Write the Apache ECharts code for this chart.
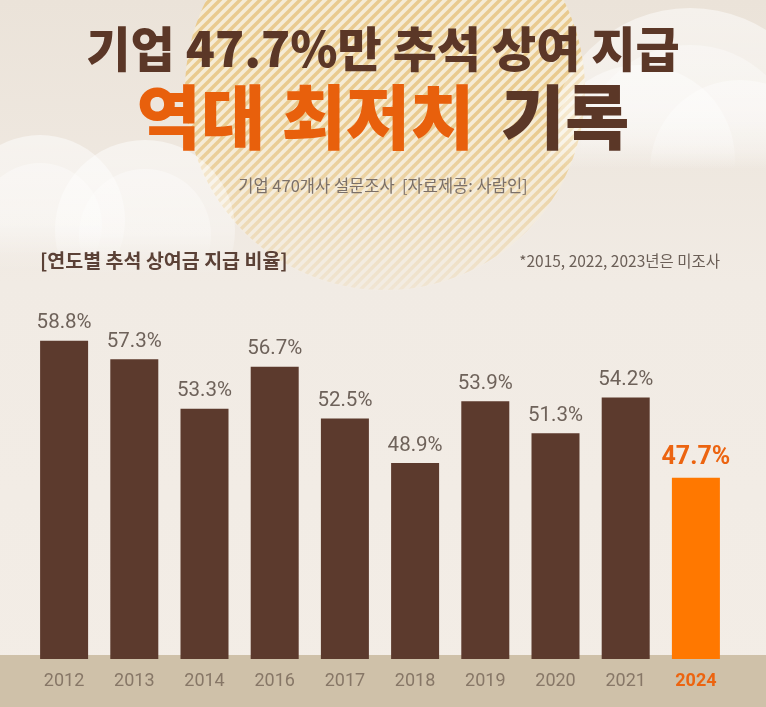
<!DOCTYPE html>
<html>
<head>
<meta charset="utf-8">
<script src="https://cdn.jsdelivr.net/npm/echarts@6/dist/echarts.min.js"></script>
<style>
html,body{margin:0;padding:0;background:#f2ece5;}
#chart{width:766px;height:707px;}
</style>
</head>
<body>
<div id="chart"></div>
<script>
// ---- data ----
const categories = ['2012','2013','2014','2016','2017','2018','2019','2020','2021','2024'];
const rates = [58.8, 57.3, 53.3, 56.7, 52.5, 48.9, 53.9, 51.3, 54.2, 47.7];
const highlightYear = '2024';
const titleLine1 = '기업 47.7%만 추석 상여 지급';
const titleLine2a = '역대 최저치';
const titleLine2b = '기록';
const subtitleText = '기업 470개사 설문조사  [자료제공: 사람인]';
const sectionLabel = '[연도별 추석 상여금 지급 비율]';
const noteText = '*2015, 2022, 2023년은 미조사';

const BROWN = '#5c3a2d';
const ORANGE = '#ff7800';
const ORANGE_TEXT = '#ec6410';
const NUM = "Roboto, 'Noto Sans', sans-serif";
const KR = "'Noto Sans CJK KR', sans-serif";

function stripePattern() {
  const s = 10;
  const c = document.createElement('canvas');
  c.width = s; c.height = s;
  const g = c.getContext('2d');
  g.fillStyle = '#f6ecd6';
  g.fillRect(0, 0, s, s);
  g.strokeStyle = '#e9c98b';
  g.lineWidth = 3.4;
  g.beginPath();
  g.moveTo(0, s); g.lineTo(s, 0);
  g.moveTo(-s / 2, s / 2); g.lineTo(s / 2, -s / 2);
  g.moveTo(s / 2, s * 1.5); g.lineTo(s * 1.5, s / 2);
  g.stroke();
  return c;
}

function cloudFill(a0, a1, stop1, stopEnd) {
  return {
    type: 'linear', x: 0, y: 0, x2: 0, y2: 1,
    colorStops: [
      { offset: 0, color: 'rgba(255,255,255,' + a0 + ')' },
      { offset: stop1, color: 'rgba(255,255,255,' + a1 + ')' },
      { offset: stopEnd, color: 'rgba(255,255,255,0)' },
      { offset: 1, color: 'rgba(255,255,255,0)' }
    ]
  };
}

const chart = echarts.init(document.getElementById('chart'));

const barData = rates.map((v, i) => {
  const hi = categories[i] === highlightYear;
  return hi ? {
    value: v,
    itemStyle: { color: ORANGE },
    label: { fontSize: 25, fontWeight: 'bold', color: ORANGE_TEXT, distance: 7 }
  } : { value: v };
});

const pattern = { image: stripePattern(), repeat: 'repeat' };

chart.setOption({
  backgroundColor: '#f2ece5',
  animation: false,
  graphic: [
    { type: 'rect', z: -100, shape: { x: 0, y: 0, width: 766, height: 707 },
      style: { fill: { type: 'linear', x: 0, y: 0, x2: 0, y2: 1, colorStops: [
        { offset: 0, color: '#ebe3d9' }, { offset: 0.4, color: '#f1ebe4' }, { offset: 1, color: '#f3ede6' } ] } } },
    // sun
    { type: 'circle', z: -90, shape: { cx: 385, cy: 90, r: 200 }, style: { fill: pattern, opacity: 0.95 } },
    { type: 'circle', z: -89, shape: { cx: 385, cy: 90, r: 201 },
      style: { fill: { type: 'linear', x: 0, y: 0, x2: 0, y2: 1, colorStops: [
        { offset: 0, color: 'rgba(242,236,229,0)' }, { offset: 0.6, color: 'rgba(242,236,229,0)' },
        { offset: 1, color: 'rgba(242,236,229,0.8)' } ] } } },
    // left cloud
    { type: 'circle', z: -80, shape: { cx: 40, cy: 220, r: 85 }, style: { fill: cloudFill(0.5, 0.35, 0.5, 0.8) } },
    { type: 'circle', z: -80, shape: { cx: 40, cy: 225, r: 62 }, style: { fill: cloudFill(0.35, 0.25, 0.5, 0.75) } },
    { type: 'circle', z: -80, shape: { cx: 145, cy: 230, r: 90 }, style: { fill: cloudFill(0.5, 0.35, 0.5, 0.75) } },
    { type: 'circle', z: -80, shape: { cx: 145, cy: 235, r: 66 }, style: { fill: cloudFill(0.35, 0.25, 0.5, 0.7) } },
    // right cloud
    { type: 'circle', z: -80, shape: { cx: 690, cy: 150, r: 142 }, style: { fill: cloudFill(0.5, 0.35, 0.35, 0.57) } },
    { type: 'circle', z: -80, shape: { cx: 690, cy: 155, r: 110 }, style: { fill: cloudFill(0.35, 0.25, 0.35, 0.5) } },
    { type: 'circle', z: -80, shape: { cx: 640, cy: 160, r: 95 }, style: { fill: cloudFill(0.45, 0.3, 0.4, 0.55) } },
    { type: 'circle', z: -80, shape: { cx: 740, cy: 170, r: 90 }, style: { fill: cloudFill(0.4, 0.25, 0.4, 0.5) } },
    // bottom band
    { type: 'rect', z: -70, shape: { x: 0, y: 655, width: 766, height: 52 }, style: { fill: '#cfc1a9' } }
  ],
  title: [
    { text: titleLine1, left: 'center', top: 23, padding: 0,
      textStyle: { fontFamily: KR, fontSize: 48, fontWeight: 900, color: '#5b3727', lineHeight: 52 } },
    { text: '{o|' + titleLine2a + '}{g| }{b|' + titleLine2b + '}', left: 'center', top: 82, padding: 0,
      textStyle: { rich: {
        o: { fontFamily: KR, fontSize: 70, fontWeight: 900, color: '#e8600c', lineHeight: 70 },
        g: { width: 26, fontSize: 70, lineHeight: 70 },
        b: { fontFamily: KR, fontSize: 70, fontWeight: 900, color: '#5b3727', lineHeight: 70 }
      } } },
    { text: subtitleText, left: 'center', top: 177, padding: 0,
      textStyle: { fontFamily: KR, fontSize: 16.5, fontWeight: 'normal', color: '#7b7069' } },
    { text: sectionLabel, left: 40, top: 251, padding: 0,
      textStyle: { fontFamily: KR, fontSize: 19.5, fontWeight: 'bold', color: '#5b4136' } },
    { text: noteText, right: 46, top: 253, padding: 0,
      textStyle: { fontFamily: KR, fontSize: 15.5, fontWeight: 'normal', color: '#6b5f57' } }
  ],
  grid: { left: 29, right: 35, top: 326, bottom: 48, containLabel: false },
  xAxis: {
    type: 'category',
    data: categories,
    axisLine: { show: false },
    axisTick: { show: false },
    axisLabel: {
      interval: 0,
      margin: 13,
      fontFamily: NUM, fontSize: 18, color: '#877767',
      formatter: v => v === highlightYear ? '{h|' + v + '}' : v,
      rich: { h: { fontFamily: NUM, fontSize: 18, fontWeight: 'bold', color: ORANGE_TEXT } }
    }
  },
  yAxis: { type: 'value', min: 33, max: 60, show: false, splitLine: { show: false } },
  series: [{
    type: 'bar',
    data: barData,
    barWidth: 48,
    itemStyle: { color: BROWN },
    label: {
      show: true, position: 'top', distance: 7,
      formatter: '{c}%',
      fontFamily: NUM, fontSize: 20.5, color: '#6e625a'
    }
  }]
});
</script>
</body>
</html>
